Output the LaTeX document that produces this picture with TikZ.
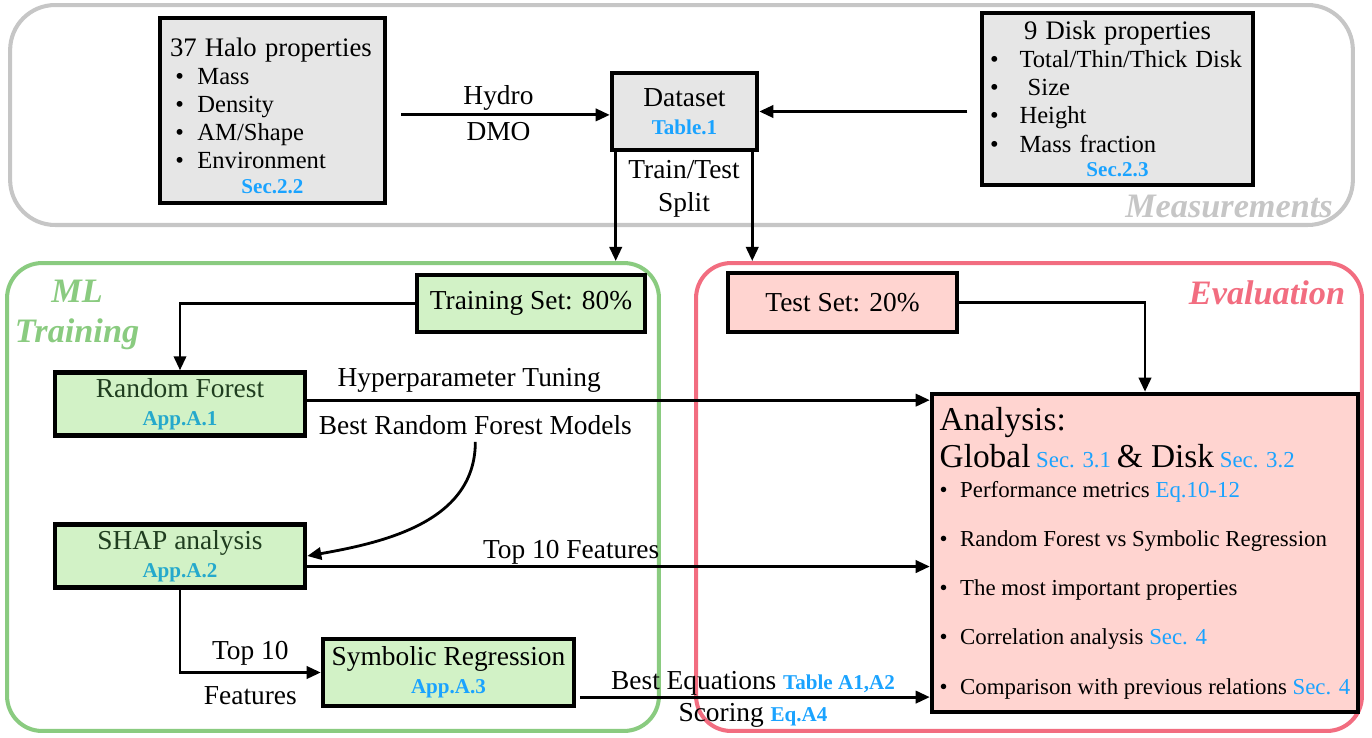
\documentclass[tikz,border=0pt]{standalone}
\usepackage{fontspec}
\setmainfont{Liberation Serif}
\usepackage{xcolor}
\usetikzlibrary{arrows.meta}

\definecolor{measgray}{HTML}{C6C6C6}
\definecolor{mlgreen}{HTML}{8ACB80}
\definecolor{evalred}{HTML}{F26D80}
\definecolor{propgray}{HTML}{E6E6E6}
\definecolor{trainfill}{HTML}{D2F2C6}
\definecolor{evalfill}{HTML}{FFD4D0}
\definecolor{refblue}{HTML}{1AA3FF}
\definecolor{appteal}{HTML}{25A9CC}
\definecolor{leafdark}{HTML}{1F3D1F}

\newcommand{\bul}[1][0.55em]{\textbullet\hspace{#1}}
\newcommand{\sref}[1]{{\color{refblue}#1}}
\newcommand{\bref}[1]{{\fontsize{12}{14}\selectfont\bfseries\color{refblue}#1}}
\newcommand{\aref}[1]{{\fontsize{12}{14}\selectfont\bfseries\color{appteal}#1}}
\newcommand{\midline}[1]{\makebox[\hsize]{#1}}

\begin{document}
\begin{tikzpicture}[x=0.02cm, y=-0.02cm,
      every node/.style={font=\fontsize{15.6}{18.7}\selectfont},
      regionbox/.style={rectangle, draw=#1, line width=2.3pt, rounded corners=0.7cm},
      regionlabel/.style={font=\fontsize{19.5}{23}\selectfont\bfseries\itshape,
        text=#1, align=center},
      propbox/.style={rectangle, draw, line width=2.6pt, fill=propgray},
      listbox/.style={propbox, font=\fontsize{14}{16}\selectfont, align=left},
      trainbox/.style={rectangle, draw, line width=2.6pt, fill=trainfill, align=center},
      mlbox/.style={trainbox, text=leafdark},
      evalbox/.style={rectangle, draw, line width=2.6pt, fill=evalfill},
      arr/.style={-{Triangle[length=8pt,width=7pt]}, line width=1.6pt},
      lbl/.style={inner sep=1.5pt}
    ]
    \useasboundingbox (0,0) rectangle (1372,737);

    % ===== Three regions =====
    \node[regionbox=measgray, rounded corners=0.9cm, minimum width=26.86cm,
      minimum height=4.4cm] (meas) at (681.5,115) {};
    \node[regionbox=mlgreen, minimum width=13.04cm, minimum height=9.36cm] (mlreg) at (333,497) {};
    \node[regionbox=evalred, minimum width=13.32cm, minimum height=9.36cm] (evalreg) at (1029,497) {};

    \node[regionlabel=measgray] (measlbl) at (1229,206) {Measurements};
    \node[regionlabel=mlgreen] (mllbl) at (77,315) {ML\\Training};
    \node[regionlabel=evalred] (evallbl) at (1267,293) {Evaluation};

    % ===== Measurements =====
    \node[listbox, minimum width=4.5cm, minimum height=3.7cm, text width=4.1cm] (halo) at (272.5,110.5) {
      \rule{0pt}{16.5pt}\mbox{\fontsize{15.2}{18}\selectfont 37 Halo properties}\\
      \hspace*{3pt}\bul Mass\\
      \hspace*{3pt}\bul Density\\
      \hspace*{3pt}\bul AM/Shape\\
      \hspace*{3pt}\bul Environment\\[-2pt]
      \midline{\bref{Sec.2.2}}};
    \node[propbox, minimum width=2.9cm, minimum height=1.54cm, align=center] (data)
      at (684.5,111.5) {Dataset\\[-3pt]\bref{Table.1}};
    \node[listbox, minimum width=5.42cm, minimum height=3.44cm, text width=5.1cm] (disk) at (1117.5,99) {
      \midline{\fontsize{15.2}{18}\selectfont 9 Disk properties}\\
      \bul[0.85em]Total/Thin/Thick Disk\\
      \bul[0.85em]\ Size\\
      \bul[0.85em]Height\\
      \bul[0.85em]Mass fraction\\[-2pt]
      \midline{\bref{Sec.2.3}}};
    \node[align=center] (split) at (684,189) {Train/Test\\Split};

    % ===== ML training =====
    \node[trainbox, minimum width=4.56cm, minimum height=1.14cm] (trainset) at (531,303.5) {Training Set: 80\%};
    \node[mlbox, minimum width=5cm, minimum height=1.16cm] (rf) at (180,404)
      {Random Forest\\[-3pt]\aref{App.A.1}};
    \node[mlbox, minimum width=5cm, minimum height=1.16cm] (shap) at (180,556)
      {SHAP analysis\\[-3pt]\aref{App.A.2}};
    \node[trainbox, minimum width=5.02cm, minimum height=1.34cm] (symreg) at (448.5,672.5)
      {Symbolic Regression\\[-3pt]\bref{App.A.3}};

    % ===== Evaluation =====
    \node[evalbox, minimum width=4.58cm, minimum height=1.18cm] (testset) at (842.5,302.5) {Test Set: 20\%};
    \node[evalbox, minimum width=8.52cm, minimum height=6.36cm, align=left,
      font=\fontsize{13}{15}\selectfont] (analysis) at (1145,553) {
      {\fontsize{19}{22}\selectfont Analysis:}\\[3pt]
      {\fontsize{19}{22}\selectfont Global} \sref{Sec. 3.1} {\fontsize{19}{22}\selectfont\&\ Disk} \sref{Sec. 3.2}\\[2pt]
      \bul Performance metrics \sref{Eq.10-12}\\[13pt]
      \bul Random Forest vs Symbolic Regression\\[13pt]
      \bul The most important properties\\[13pt]
      \bul Correlation analysis \sref{Sec. 4}\\[13pt]
      \bul Comparison with previous relations \sref{Sec. 4}};

    % ===== Arrows: measurements into the dataset, dataset split =====
    \draw[arr, shorten <=8pt] ([yshift=-2.5pt]halo.east) -- ([yshift=-2.5pt]halo.east -| data.west)
      node[lbl, midway, above] {Hydro} node[midway, below] {DMO};
    \draw[arr, shorten <=7pt] (disk.west |- data.east) -- (data.east);
    \draw[arr] ([xshift=3.4pt]data.south west) -- ([xshift=3.4pt]data.south west |- mlreg.north);
    \draw[arr] ([xshift=-4pt]data.south east) -- ([xshift=-4pt]data.south east |- evalreg.north);

    % ===== Arrows: training chain =====
    \draw[arr] (trainset.west) -| (rf.north);
    \draw[arr] ([yshift=2.2pt]rf.east) -- ([yshift=2.2pt]rf.east -| analysis.west)
      node[pos=0.26, above] {Hyperparameter Tuning}
      node[pos=0.27, below=4.5pt] (bestrf) {Best Random Forest Models};
    \draw[arr] (bestrf.south) to[out=-90, in=10] (shap.east);
    \draw[arr] ([yshift=-6pt]shap.east) -- ([yshift=-6pt]shap.east -| analysis.west)
      node[inner sep=0.5pt, pos=0.424, above] {Top 10 Features};
    \draw[arr] (shap.south) |- (symreg.west)
      node[pos=0.75, above] {Top 10} node[pos=0.75, below=4pt] {Features};
    \draw[arr, shorten <=2pt] ([yshift=-14pt]symreg.east) -- ([yshift=-14pt]symreg.east -| analysis.west)
      node[inner sep=0pt, midway, above] {Best Equations \bref{Table A1,A2}}
      node[inner sep=3pt, midway, below] {Scoring \bref{Eq.A4}};

    % ===== Arrows: test set into the analysis =====
    \draw[arr] (testset.east) -| (analysis.north);
  \end{tikzpicture}
\end{document}
